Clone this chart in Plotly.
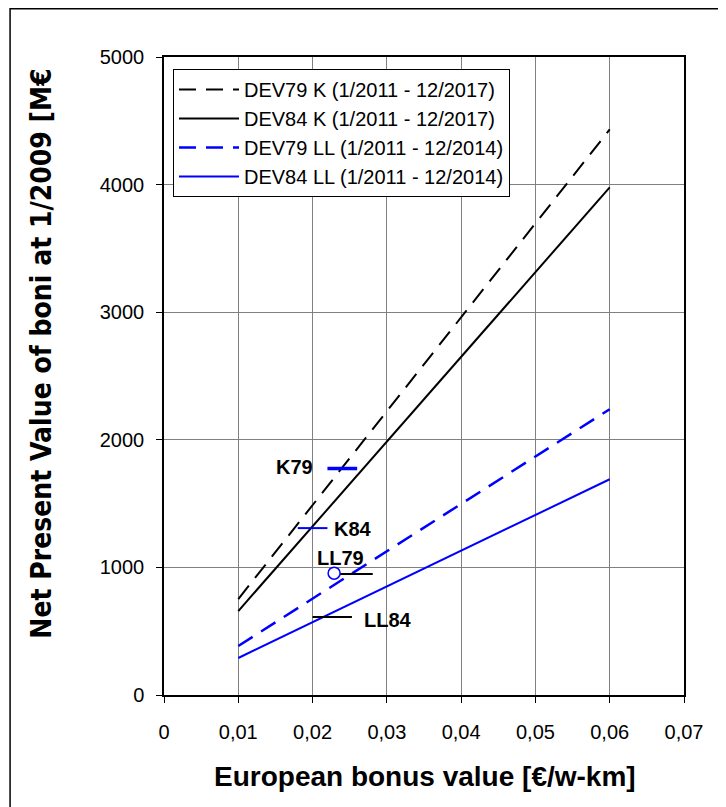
import plotly.graph_objects as go

# ---- data ----
bonus_x = [0.01, 0.06]
dev79_k = [752, 4432]
dev84_k = [658, 3978]
dev79_ll = [384, 2240]
dev84_ll = [290, 1691]

series_names = ["DEV79 K (1/2011 - 12/2017)", "DEV84 K (1/2011 - 12/2017)",
                "DEV79 LL (1/2011 - 12/2014)", "DEV84 LL (1/2011 - 12/2014)"]

# reference markers (horizontal segments)
k79_x = [0.022, 0.026]; k79_y = [1775, 1775]
k84_x = [0.018, 0.022]; k84_y = [1308, 1308]
ll79_x = [0.0237, 0.0281]; ll79_y = [948, 948]
ll79_pt_x = [0.0229]; ll79_pt_y = [955]
ll84_x = [0.020, 0.0253]; ll84_y = [611, 611]

x_ticks = [0, 0.01, 0.02, 0.03, 0.04, 0.05, 0.06, 0.07]
x_tick_labels = ["0", "0,01", "0,02", "0,03", "0,04", "0,05", "0,06", "0,07"]
y_ticks = [0, 1000, 2000, 3000, 4000, 5000]

BLUE = "#0000FF"
DASH = "17px,10px"
FONT = "Liberation Sans, Arial, sans-serif"
NARROW = "Liberation Sans Narrow, Arial Narrow, DejaVu Sans Condensed, sans-serif"

fig = go.Figure()
fig.add_trace(go.Scatter(x=bonus_x, y=dev79_k, mode="lines", name=series_names[0],
                         line=dict(color="black", width=2, dash=DASH)))
fig.add_trace(go.Scatter(x=bonus_x, y=dev84_k, mode="lines", name=series_names[1],
                         line=dict(color="black", width=2)))
fig.add_trace(go.Scatter(x=bonus_x, y=dev79_ll, mode="lines", name=series_names[2],
                         line=dict(color=BLUE, width=2.5, dash=DASH)))
fig.add_trace(go.Scatter(x=bonus_x, y=dev84_ll, mode="lines", name=series_names[3],
                         line=dict(color=BLUE, width=2)))

fig.add_trace(go.Scatter(x=k79_x, y=k79_y, mode="lines", showlegend=False,
                         line=dict(color=BLUE, width=3.5)))
fig.add_trace(go.Scatter(x=k84_x, y=k84_y, mode="lines", showlegend=False,
                         line=dict(color=BLUE, width=2)))
fig.add_trace(go.Scatter(x=ll79_x, y=ll79_y, mode="lines", showlegend=False,
                         line=dict(color="black", width=2)))
fig.add_trace(go.Scatter(x=ll79_pt_x, y=ll79_pt_y, mode="markers", showlegend=False,
                         marker=dict(symbol="circle-open", size=12, color=BLUE,
                                     line=dict(color=BLUE, width=1.5))))
fig.add_trace(go.Scatter(x=ll84_x, y=ll84_y, mode="lines", showlegend=False,
                         line=dict(color="black", width=2)))

lab_font = dict(family=FONT, size=20, color="black")
fig.add_annotation(x=k79_x[0], y=k79_y[0], text="<b>K79</b>", showarrow=False,
                   xanchor="right", xshift=-12, yshift=2, font=lab_font)
fig.add_annotation(x=k84_x[1], y=k84_y[0], text="<b>K84</b>", showarrow=False,
                   xanchor="left", xshift=5, yshift=-1, font=lab_font)
fig.add_annotation(x=ll79_pt_x[0], y=ll79_pt_y[0], text="<b>LL79</b>", showarrow=False,
                   xanchor="center", yanchor="bottom", xshift=6, yshift=2, font=lab_font)
fig.add_annotation(x=ll84_x[1], y=ll84_y[0], text="<b>LL84</b>", showarrow=False,
                   xanchor="left", xshift=10, yshift=-3, font=lab_font)

# axis titles
fig.add_annotation(xref="paper", yref="paper", x=-0.2346, y=0.535,
                   text="<b>Net Present Value of boni at 1/2009 [M€</b>", textangle=-90,
                   showarrow=False, xanchor="center", yanchor="middle",
                   font=dict(family=NARROW, size=28, color="black"))
fig.add_annotation(xref="paper", yref="paper", x=0.502, y=-0.127,
                   text="<b>European bonus value [€/w-km]</b>",
                   showarrow=False, xanchor="center", yanchor="middle",
                   font=dict(family=FONT, size=28, color="black"))

# outer frame
fig.add_shape(type="rect", xref="paper", yref="paper",
              x0=-0.296, x1=1.12, y0=-0.25, y1=1.0755,
              line=dict(color="black", width=1.5), fillcolor="rgba(0,0,0,0)", layer="below")

axis_common = dict(showgrid=True, gridcolor="#808080", gridwidth=1,
                   showline=True, linecolor="black", linewidth=1.5, mirror=True,
                   ticks="outside", ticklen=6, tickcolor="black", zeroline=False,
                   tickfont=dict(family=FONT, size=20, color="black"))

fig.update_xaxes(range=[0, 0.07], tickvals=x_ticks, ticktext=x_tick_labels,
                 ticklabelstandoff=12, **axis_common)
fig.update_yaxes(range=[0, 5000], tickvals=y_ticks, ticklabelstandoff=8, **axis_common)

fig.update_layout(
    width=718, height=799,
    margin=dict(l=156, r=42, t=49, b=112),
    plot_bgcolor="white", paper_bgcolor="white",
    font=dict(family=FONT, color="black"),
    legend=dict(x=0.0173, y=0.981, xanchor="left", yanchor="top",
                bgcolor="white", bordercolor="black", borderwidth=1,
                font=dict(family=FONT, size=20, color="black"),
                tracegroupgap=0, itemwidth=60),
)

fig.write_html("out.html")
